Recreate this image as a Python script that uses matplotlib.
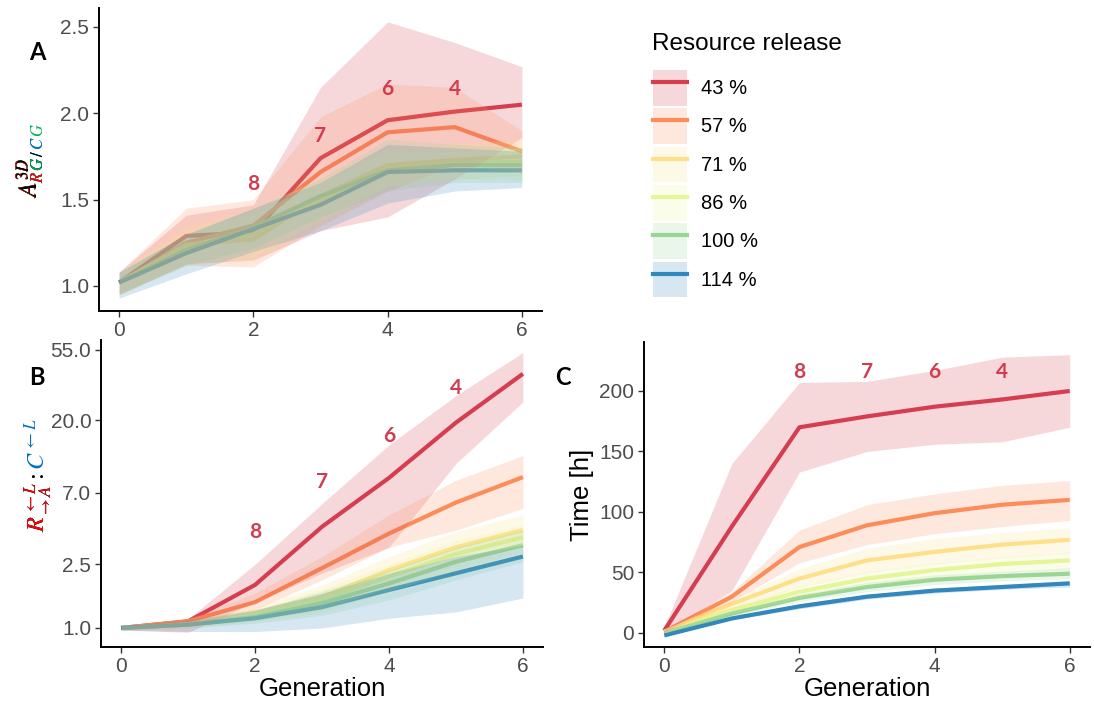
import matplotlib
matplotlib.use("Agg")
import matplotlib.pyplot as plt
from matplotlib.patches import Patch
from matplotlib.lines import Line2D
import numpy as np

plt.rcParams['font.family'] = ['Liberation Sans', 'DejaVu Sans']
plt.rcParams['mathtext.fontset'] = 'stix'

# ---------------- data ----------------
generations = [0, 1, 2, 3, 4, 5, 6]
release_labels = ['43 %', '57 %', '71 %', '86 %', '100 %', '114 %']
colors = ['#D53E4F', '#FC8D59', '#FEE08B', '#E6F598', '#99D594', '#3288BD']

# Panel A: A^3D_{RG/CG}
a_mean_43 = [1.02, 1.29, 1.31, 1.74, 1.96, 2.01, 2.05]
a_mean_57 = [1.02, 1.25, 1.35, 1.66, 1.89, 1.92, 1.78]
a_mean_71 = [1.02, 1.24, 1.27, 1.52, 1.70, 1.73, 1.75]
a_mean_86 = [1.02, 1.22, 1.30, 1.50, 1.68, 1.71, 1.72]
a_mean_100 = [1.02, 1.21, 1.34, 1.52, 1.67, 1.70, 1.70]
a_mean_114 = [1.02, 1.19, 1.33, 1.47, 1.66, 1.67, 1.67]
a_low_43 = [0.95, 1.13, 1.15, 1.32, 1.40, 1.62, 1.86]
a_high_43 = [1.08, 1.41, 1.47, 2.15, 2.53, 2.41, 2.27]
a_low_57 = [0.96, 1.12, 1.11, 1.35, 1.55, 1.70, 1.66]
a_high_57 = [1.08, 1.45, 1.50, 1.98, 2.17, 2.15, 1.90]
a_low_71 = [0.95, 1.13, 1.15, 1.35, 1.58, 1.62, 1.64]
a_high_71 = [1.08, 1.35, 1.45, 1.62, 1.80, 1.82, 1.85]
a_low_86 = [0.95, 1.12, 1.17, 1.38, 1.58, 1.62, 1.62]
a_high_86 = [1.08, 1.32, 1.42, 1.60, 1.78, 1.78, 1.80]
a_low_100 = [0.95, 1.12, 1.22, 1.40, 1.55, 1.60, 1.60]
a_high_100 = [1.08, 1.30, 1.45, 1.62, 1.85, 1.82, 1.80]
a_low_114 = [0.93, 1.07, 1.20, 1.32, 1.48, 1.55, 1.57]
a_high_114 = [1.08, 1.30, 1.45, 1.60, 1.82, 1.80, 1.78]

# Panel B: R:C ratio (log scale)
b_mean_43 = [1.0, 1.10, 1.86, 4.3, 8.7, 19.3, 39.0]
b_mean_57 = [1.0, 1.10, 1.45, 2.37, 3.9, 6.1, 8.8]
b_mean_71 = [1.0, 1.05, 1.24, 1.56, 2.3, 3.2, 4.1]
b_mean_86 = [1.0, 1.05, 1.20, 1.50, 2.1, 2.9, 3.7]
b_mean_100 = [1.0, 1.05, 1.17, 1.43, 1.9, 2.6, 3.3]
b_mean_114 = [1.0, 1.05, 1.15, 1.35, 1.73, 2.2, 2.8]
b_low_43 = [0.97, 0.94, 1.45, 2.2, 3.2, 10.7, 26.0]
b_high_43 = [1.03, 1.14, 2.5, 6.0, 14.0, 28.5, 53.0]
b_low_57 = [0.97, 1.03, 1.30, 2.0, 3.2, 4.1, 5.6]
b_high_57 = [1.03, 1.15, 1.65, 2.8, 5.1, 8.4, 12.0]
b_low_71 = [0.97, 1.00, 1.12, 1.30, 1.8, 2.5, 3.3]
b_high_71 = [1.03, 1.10, 1.35, 1.85, 2.8, 4.0, 5.1]
b_low_86 = [0.97, 1.00, 1.10, 1.25, 1.7, 2.3, 3.0]
b_high_86 = [1.03, 1.10, 1.32, 1.75, 2.5, 3.5, 4.4]
b_low_100 = [0.97, 1.00, 1.07, 1.20, 1.5, 2.0, 2.6]
b_high_100 = [1.03, 1.10, 1.28, 1.70, 2.3, 3.2, 4.1]
b_low_114 = [0.97, 0.95, 0.95, 1.00, 1.15, 1.26, 1.54]
b_high_114 = [1.03, 1.12, 1.30, 1.65, 2.2, 2.8, 3.3]

# Panel C: Time [h]
c_mean_43 = [2, 88, 170, 179, 187, 193, 200]
c_mean_57 = [1, 30, 71, 89, 99, 106, 110]
c_mean_71 = [1, 24, 45, 60, 67, 73, 77]
c_mean_86 = [0, 19, 34, 45, 52, 57, 60]
c_mean_100 = [0, 16, 29, 38, 44, 47, 49]
c_mean_114 = [-2, 12, 22, 30, 35, 38, 41]
c_low_43 = [0, 35, 133, 150, 156, 158, 170]
c_high_43 = [5, 140, 207, 208, 217, 228, 230]
c_low_57 = [0, 26, 58, 73, 82, 88, 93]
c_high_57 = [3, 34, 85, 106, 115, 122, 126]
c_low_71 = [0, 20, 38, 50, 57, 62, 66]
c_high_71 = [3, 28, 53, 70, 78, 83, 87]
c_low_86 = [0, 16, 29, 39, 45, 50, 53]
c_high_86 = [2, 22, 39, 51, 58, 63, 67]
c_low_100 = [0, 14, 26, 34, 40, 43, 45]
c_high_100 = [2, 18, 32, 42, 48, 51, 54]
c_low_114 = [-3, 11, 20, 28, 33, 36, 38]
c_high_114 = [-1, 13, 24, 32, 37, 40, 43]

# generation annotations (cells per cluster) on the 43 % series
annot_labels = ['8', '7', '6', '4']
annot_gen = [2, 3, 4, 5]
annot_a_y = [1.59, 1.87, 2.14, 2.14]
annot_b_y = [4.0, 8.2, 15.8, 32.0]
annot_c_y = [216, 216, 216, 216]

b_ticks = [1.0, 2.5, 7.0, 20.0, 55.0]
b_ticklabels = ['1.0', '2.5', '7.0', '20.0', '55.0']
a_ticks = [1.0, 1.5, 2.0, 2.5]
c_ticks = [0, 50, 100, 150, 200]
x_ticks = [0, 2, 4, 6]

A_means = [a_mean_43, a_mean_57, a_mean_71, a_mean_86, a_mean_100, a_mean_114]
A_lows = [a_low_43, a_low_57, a_low_71, a_low_86, a_low_100, a_low_114]
A_highs = [a_high_43, a_high_57, a_high_71, a_high_86, a_high_100, a_high_114]
B_means = [b_mean_43, b_mean_57, b_mean_71, b_mean_86, b_mean_100, b_mean_114]
B_lows = [b_low_43, b_low_57, b_low_71, b_low_86, b_low_100, b_low_114]
B_highs = [b_high_43, b_high_57, b_high_71, b_high_86, b_high_100, b_high_114]
C_means = [c_mean_43, c_mean_57, c_mean_71, c_mean_86, c_mean_100, c_mean_114]
C_lows = [c_low_43, c_low_57, c_low_71, c_low_86, c_low_100, c_low_114]
C_highs = [c_high_43, c_high_57, c_high_71, c_high_86, c_high_100, c_high_114]

W, H = 1094, 709
fig = plt.figure(figsize=(W / 100, H / 100), dpi=100)


def px_axes(left, top, right, bottom):
    return fig.add_axes([left / W, 1 - bottom / H, (right - left) / W, (bottom - top) / H])


axA = px_axes(99, 8, 542, 311)
axB = px_axes(101, 340, 543, 647)
axC = px_axes(644, 342, 1090, 647)

TICK_GREY = '#4D4D4D'
ANNOT_RED = '#D23C4E'


def style(ax):
    for s in ['top', 'right']:
        ax.spines[s].set_visible(False)
    for s in ['left', 'bottom']:
        ax.spines[s].set_linewidth(1.4)
        ax.spines[s].set_color('black')
    ax.tick_params(axis='both', direction='out', length=4, width=1.0, color='#333333',
                   labelsize=15, labelcolor=TICK_GREY, pad=3)
    ax.set_xlim(-0.3, 6.3)
    ax.set_xticks(x_ticks)
    ax.set_facecolor('none')


def draw(ax, means, lows, highs):
    for m, c in zip(means, colors):
        ax.plot(generations, m, color=c, lw=3.0, zorder=2, solid_capstyle='butt')
    for lo, hi, c in zip(lows, highs, colors):
        ax.fill_between(generations, lo, hi, color=c, alpha=0.2, lw=0, zorder=3)


# Panel A
draw(axA, A_means, A_lows, A_highs)
style(axA)
axA.set_ylim(0.855, 2.61)
axA.set_yticks(a_ticks)
axA.set_yticklabels(['1.0', '1.5', '2.0', '2.5'])

# Panel B
axB.set_yscale('log')
draw(axB, B_means, B_lows, B_highs)
style(axB)
axB.set_ylim(0.76, 63.5)
axB.set_yticks(b_ticks)
axB.set_yticklabels(b_ticklabels)
axB.yaxis.set_minor_locator(matplotlib.ticker.NullLocator())
axB.set_xlabel('Generation', fontsize=18.5, color='black', labelpad=1)

# Panel C
draw(axC, C_means, C_lows, C_highs)
style(axC)
axC.set_ylim(-11.6, 240.5)
axC.set_yticks(c_ticks)
axC.set_xlabel('Generation', fontsize=18.5, color='black', labelpad=1)
axC.set_ylabel('Time [h]', fontsize=18.5, color='black', labelpad=4)

# annotations
for ax, ys in [(axA, annot_a_y), (axB, annot_b_y), (axC, annot_c_y)]:
    for lab, gx, gy in zip(annot_labels, annot_gen, ys):
        ax.text(gx, gy, lab, color=ANNOT_RED, fontsize=15, fontweight='bold',
                ha='center', va='center', family='Lato', zorder=5)

# panel letters
for lab, x, y in [('A', 37, 53), ('B', 37, 378), ('C', 563, 378)]:
    fig.text(x / W, 1 - y / H, lab, fontsize=17, fontweight='bold', family='Lato',
             ha='center', va='center', color='black')

# coloured y labels (layered mathtext, rotated)
RED, GREEN, BLUE = '#FF0000', '#00B050', '#0070C0'
layersA = [(r'$A^{3D}_{R\,G\,/\,C\,G}$', GREEN), (r'$A^{3D}_{R\,G\,/\,C}$', BLUE),
           (r'$A^{3D}_{R\,G\,/}$', 'black'), (r'$A^{3D}_{R\,G}$', GREEN),
           (r'$A^{3D}_{R}$', RED), (r'$A^{3D}$', 'black')]
for s, c in layersA:
    fig.text(38 / W, 1 - 198 / H, s, color=c, fontsize=17, rotation=90,
             rotation_mode='anchor', ha='left', va='baseline')

rstr = r'R^{\leftarrow L}_{\rightarrow A}'
layersB = [('$' + rstr + r':C^{\leftarrow L}$', BLUE), ('$' + rstr + r':$', 'black'),
           ('$' + rstr + '$', RED)]
for s, c in layersB:
    fig.text(46 / W, 1 - 532 / H, s, color=c, fontsize=17.5, rotation=90,
             rotation_mode='anchor', ha='left', va='baseline')

# legend
fig.text(652 / W, 1 - 44 / H, 'Resource release', fontsize=17.5, color='black',
         ha='left', va='center')
handles = [(Patch(facecolor=c, alpha=0.2, edgecolor='none'), Line2D([], [], color=c, lw=3.0))
           for c in colors]
leg = fig.legend(handles, release_labels, loc='upper left',
                 bbox_to_anchor=(653 / W, 1 - 70 / H), frameon=False, fontsize=14.5,
                 handlelength=1.7, handleheight=2.35,
                 labelspacing=0.13, handletextpad=0.7, borderpad=0, borderaxespad=0)

fig.savefig('out.png', dpi=100)
